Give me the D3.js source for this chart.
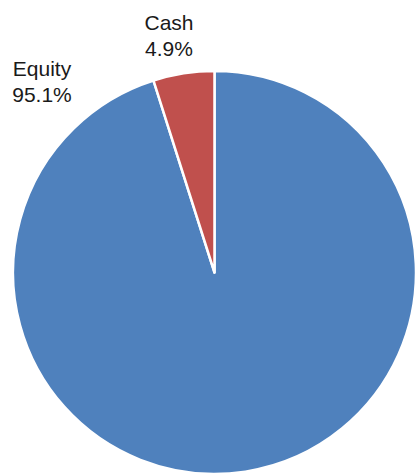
<!DOCTYPE html>
<html>
  <head>
    <style>
      body { margin: 0; background: #ffffff; }
    </style>
  </head>
  <body>
    <svg id="chart"></svg>
  </body>
</html>

<script src="https://d3js.org/d3.v7.min.js"></script>

<script>
  const WIDTH = 416
  const HEIGHT = 474

  // chart data
  const categories = ['Equity', 'Cash']
  const shares = [95.1, 4.9]
  const colors = ['#4F81BD', '#C0504D']

  const CX = 214.5
  const CY = 272.5
  const RADIUS = 201.5

  let svg = d3.select('#chart')
    .attr('width', WIDTH)
    .attr('height', HEIGHT)

  let data = categories.map(function(c, i) {
    return { name: c, value: shares[i], color: colors[i] }
  })

  let pie = d3.pie()
    .sort(null)
    .value(function(d) { return d.value })

  let arc = d3.arc()
    .innerRadius(0)
    .outerRadius(RADIUS)

  let g = svg.append('g')
    .attr('transform', 'translate(' + CX + ',' + CY + ')')

  let slices = pie(data)

  g.selectAll('path')
    .data(slices)
    .enter()
    .append('path')
    .attr('d', arc)
    .attr('fill', function(d) { return d.data.color })
    .attr('stroke', '#ffffff')
    .attr('stroke-width', 2.5)
    .attr('stroke-linejoin', 'round')

  // label spots, Excel style: small slice above its arc, big slice top left
  const labelSpots = {
    'Cash':   { x: 169, y: 30 },
    'Equity': { x: 42,  y: 76 }
  }

  svg.selectAll('text.lbl')
    .data(slices)
    .enter()
    .append('text')
    .attr('class', 'lbl')
    .attr('text-anchor', 'middle')
    .attr('font-family', 'Liberation Sans, Arial, sans-serif')
    .attr('font-size', 21)
    .attr('fill', '#1a1a1a')
    .each(function(d) {
      let spot = labelSpots[d.data.name]
      let t = d3.select(this)
      t.append('tspan')
        .attr('x', spot.x)
        .attr('y', spot.y)
        .text(d.data.name)
      t.append('tspan')
        .attr('x', spot.x)
        .attr('y', spot.y + 25.5)
        .text(d3.format('.1f')(d.data.value) + '%')
    })
</script>
